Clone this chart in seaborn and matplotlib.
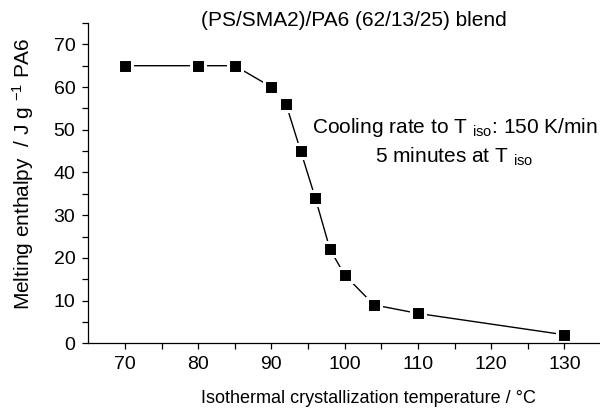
import matplotlib
matplotlib.use("Agg")
import matplotlib.pyplot as plt
import seaborn as sns
import pandas as pd

temperature = [70, 80, 85, 90, 92, 94, 96, 98, 100, 104, 110, 130]
enthalpy = [65, 65, 65, 60, 56, 45, 34, 22, 16, 9, 7, 2]
x_ticks = [70, 80, 90, 100, 110, 120, 130]
y_ticks = [0, 10, 20, 30, 40, 50, 60, 70]

title = "(PS/SMA2)/PA6 (62/13/25) blend"
x_label = "Isothermal crystallization temperature / \u00b0C"
y_label = "Melting enthalpy  / J g $^{-1}$ PA6"
note1 = "Cooling rate to T $_{\\rm iso}$: 150 K/min"
note2 = "5 minutes at T $_{\\rm iso}$"

sns.set_theme(style="ticks")
plt.rcParams["font.family"] = ["Liberation Sans", "DejaVu Sans"]
plt.rcParams["mathtext.fontset"] = "custom"
plt.rcParams["mathtext.rm"] = "Liberation Sans"
plt.rcParams["mathtext.it"] = "Liberation Sans:italic"
plt.rcParams["mathtext.default"] = "regular"

df = pd.DataFrame({"T": temperature, "H": enthalpy})

fig = plt.figure(figsize=(6.0, 4.13), dpi=100)
ax = fig.add_axes([88.3 / 600, 1 - 343.3 / 413, (601 - 88.3) / 600, (343.3 - 23) / 413])

sns.lineplot(data=df, x="T", y="H", ax=ax, color="black", linewidth=1.0,
             marker="s", markersize=10.2, markerfacecolor="black",
             markeredgecolor="white", markeredgewidth=2.2)

ax.set_xlim(65, 135)
ax.set_ylim(0, 75)
ax.set_xticks(x_ticks)
ax.set_yticks(y_ticks)
ax.set_xticks([75, 85, 95, 105, 115, 125], minor=True)
ax.set_yticks([5, 15, 25, 35, 45, 55, 65, 75], minor=True)
ax.tick_params(axis="both", which="both", direction="out", length=4.5, width=0.9,
               color="black", labelsize=14, labelcolor="black")
ax.tick_params(axis="x", which="major", pad=4.6)
ax.tick_params(axis="y", which="major", pad=4.8)
for s in ["top", "right"]:
    ax.spines[s].set_visible(False)
for s in ["left", "bottom"]:
    ax.spines[s].set_color("black")
    ax.spines[s].set_linewidth(0.9)
ax.set_facecolor("white")

ax.set_xlabel(x_label, fontsize=13, color="black", va="top")
ax.xaxis.set_label_coords((368 - 88.3) / 512.7, (343.3 - 390) / 320.3)
ax.set_ylabel("")
fig.text(23 / 600, 1 - 174 / 413, y_label, rotation=90, ha="center", va="center",
         fontsize=15, color="black")

fig.text(354 / 600, 1 - 21 / 413, title, ha="center", va="center", fontsize=15, color="black")

ax.text(95.5, 49.3, note1, ha="left", va="baseline", fontsize=15, color="black")
ax.text(104.2, 42.2, note2, ha="left", va="baseline", fontsize=15, color="black")

fig.savefig("out.png", dpi=100, facecolor="white")
